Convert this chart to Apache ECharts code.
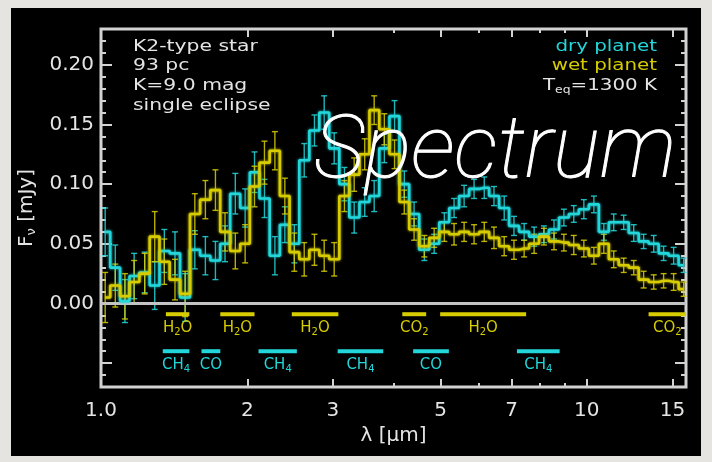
<!DOCTYPE html>
<html><head><meta charset="utf-8">
<script src="https://cdn.jsdelivr.net/npm/echarts@6/dist/echarts.min.js"></script>
<style>html,body{margin:0;padding:0;background:#e6e4e0;}#c{width:712px;height:462px;}</style>
</head><body><div id="c"></div>
<script>
// ---- data (wavelength in micron, flux in mJy) ----
const wavelength = [1.02,1.07,1.12,1.17,1.23,1.29,1.35,1.42,1.49,1.56,
  1.64,1.72,1.80,1.89,1.98,2.07,2.17,2.28,2.39,2.50,
  2.62,2.75,2.88,3.02,3.17,3.32,3.49,3.65,3.83,4.02,
  4.21,4.41,4.63,4.85,5.09,5.33,5.59,5.86,6.15,6.44,
  6.76,7.08,7.43,7.79,8.16,8.56,8.97,9.40,9.86,10.34,
  10.84,11.36,11.91,12.49,13.09,13.73,14.39,15.09,15.82];
const dryFlux = [0.060,0.030,0.002,0.023,0.026,0.015,0.044,0.042,0.005,0.045,
  0.040,0.036,0.050,0.092,0.080,0.110,0.088,0.040,0.066,0.050,
  0.120,0.145,0.160,0.130,0.100,0.072,0.085,0.090,0.130,0.157,
  0.100,0.075,0.045,0.050,0.068,0.080,0.090,0.096,0.097,0.090,
  0.080,0.065,0.060,0.056,0.058,0.062,0.072,0.075,0.079,0.083,
  0.060,0.068,0.068,0.059,0.052,0.050,0.042,0.040,0.032];
const dryErr = [0.020,0.019,0.018,0.019,0.017,0.020,0.018,0.018,0.020,0.016,
  0.016,0.016,0.015,0.017,0.016,0.017,0.016,0.016,0.015,0.016,
  0.014,0.013,0.014,0.013,0.014,0.013,0.012,0.013,0.012,0.013,
  0.011,0.010,0.009,0.008,0.008,0.008,0.009,0.008,0.009,0.008,
  0.010,0.008,0.007,0.008,0.007,0.008,0.007,0.007,0.008,0.007,
  0.007,0.007,0.006,0.007,0.006,0.007,0.006,0.007,0.006];
const wetFlux = [0.005,0.015,0.006,0.018,0.025,0.056,0.035,0.020,0.008,0.075,
  0.087,0.095,0.060,0.044,0.050,0.098,0.118,0.128,0.090,0.043,
  0.037,0.045,0.040,0.037,0.090,0.108,0.125,0.162,0.146,0.125,
  0.085,0.062,0.048,0.055,0.060,0.058,0.060,0.058,0.060,0.055,
  0.048,0.045,0.046,0.050,0.056,0.052,0.051,0.049,0.046,0.040,
  0.050,0.037,0.032,0.030,0.020,0.018,0.019,0.018,0.012];
const wetErr = [0.021,0.018,0.019,0.018,0.017,0.021,0.019,0.017,0.019,0.017,
  0.016,0.017,0.016,0.015,0.016,0.017,0.018,0.016,0.015,0.016,
  0.014,0.013,0.013,0.014,0.013,0.014,0.013,0.012,0.013,0.012,
  0.010,0.009,0.009,0.008,0.008,0.009,0.008,0.008,0.008,0.009,
  0.008,0.008,0.007,0.008,0.007,0.007,0.007,0.008,0.007,0.007,
  0.008,0.007,0.006,0.006,0.007,0.006,0.006,0.007,0.006];

// molecular band markers
const wetBandStart = [1.36, 1.76, 2.47, 4.17, 4.99, 13.4];
const wetBandEnd   = [1.52, 2.07, 3.08, 4.67, 7.50, 16.0];
const wetBandName  = ['H2O','H2O','H2O','CO2','H2O','CO2'];
const dryBandStart = [1.34, 1.61, 2.11, 3.07, 4.39, 7.18];
const dryBandEnd   = [1.52, 1.76, 2.53, 3.81, 5.20, 8.79];
const dryBandName  = ['CH4','CO','CH4','CH4','CO','CH4'];
const wetBandLevel = -0.009;
const dryBandLevel = -0.040;

// axis ticks
const xMin = 1.0, xMax = 16.0;
const xMajorTicks = [1, 2, 3, 5, 7, 10, 15];
const xMinorTicks = [4, 6, 8, 9];
const yMin = -0.07, yMax = 0.23;
const yLabelTicks = [0, 0.05, 0.10, 0.15, 0.20];
const yMajorTicks = [-0.05, 0, 0.05, 0.10, 0.15, 0.20];
const yMinorTicks = [-0.06,-0.04,-0.03,-0.02,-0.01,0.01,0.02,0.03,0.04,0.06,0.07,0.08,0.09,
  0.11,0.12,0.13,0.14,0.16,0.17,0.18,0.19,0.21,0.22];

// ---- build ----
const CYAN = '#22d6da', YELLOW = '#d6cc00', FRAME = '#d2d2d2', TXT = '#e4e4e4';
const FONT = 'DejaVu Sans';
const lg = v => Math.log10(v);

function molRich(name) {
  return name.split(/(\d)/).filter(Boolean).map(t => /\d/.test(t) ? '{s|' + t + '}' : '{n|' + t + '}').join('');
}

function errSeries(name, flux, err, color) {
  return {
    type: 'custom', name, xAxisIndex: 0, yAxisIndex: 0, z: 3,
    data: wavelength.map((w, i) => [lg(w), flux[i], err[i]]),
    renderItem: (params, api) => {
      const x = api.value(0), y = api.value(1), e = api.value(2);
      const t = api.coord([x, y + e]), b = api.coord([x, y - e]);
      const st = { stroke: color, lineWidth: 1.4, opacity: 0.85 };
      return { type: 'group', children: [
        { type: 'line', shape: { x1: t[0], y1: t[1], x2: b[0], y2: b[1] }, style: st },
        { type: 'line', shape: { x1: t[0] - 3, y1: t[1], x2: t[0] + 3, y2: t[1] }, style: st },
        { type: 'line', shape: { x1: b[0] - 3, y1: b[1], x2: b[0] + 3, y2: b[1] }, style: st }
      ]};
    }
  };
}

function bandSeries(starts, ends, names, level, color) {
  return {
    type: 'custom', xAxisIndex: 0, yAxisIndex: 0, z: 4, clip: true, silent: true,
    data: starts.map((s, i) => [lg(s), lg(ends[i]), level]),
    renderItem: (params, api) => {
      const a = api.coord([api.value(0), api.value(2)]);
      const b = api.coord([api.value(1), api.value(2)]);
      return { type: 'group', children: [
        { type: 'line', shape: { x1: a[0], y1: a[1], x2: b[0], y2: b[1] }, style: { stroke: color, lineWidth: 4 } },
        { type: 'text', x: (a[0] + b[0]) / 2, y: a[1] + 6, style: {
          text: molRich(names[params.dataIndex]), fill: color, align: 'center', verticalAlign: 'top',
          rich: { n: { fontSize: 15, fontFamily: FONT, fill: color, lineHeight: 16 },
                  s: { fontSize: 10, fontFamily: FONT, fill: color, padding: [9, 0, 0, 0], lineHeight: 16 } }
        }}
      ]};
    }
  };
}

const tickStyle = { color: FRAME, width: 2 };
function xAx(pos, ticks, len, labels) {
  return {
    type: 'value', position: pos, min: lg(xMin), max: lg(xMax),
    splitLine: { show: false }, axisLine: { show: false, onZero: false },
    axisTick: { show: true, inside: true, length: len, lineStyle: tickStyle, customValues: ticks.map(lg) },
    axisLabel: labels ? { show: true, customValues: xMajorTicks.map(lg), margin: 14, color: TXT, fontFamily: FONT, fontSize: 20,
      formatter: v => { const n = Math.round(Math.pow(10, v)); return n === 1 ? '1.0' : String(n); } } : { show: false }
  };
}
function yAx(pos, ticks, len, labels) {
  return {
    type: 'value', position: pos, min: yMin, max: yMax,
    splitLine: { show: false }, axisLine: { show: false, onZero: false },
    axisTick: { show: true, inside: true, length: len, lineStyle: tickStyle, customValues: ticks },
    axisLabel: labels ? { show: true, customValues: yLabelTicks, margin: 7, color: TXT, fontFamily: FONT, fontSize: 20,
      formatter: v => v.toFixed(2) } : { show: false }
  };
}

const xAxes = [xAx('bottom', xMajorTicks, 8, true), xAx('bottom', xMinorTicks, 4, false),
               xAx('top', xMajorTicks, 8, false), xAx('top', xMinorTicks, 4, false)];
xAxes[0].name = 'λ [μm]';
xAxes[0].nameLocation = 'middle';
xAxes[0].nameGap = 36;
xAxes[0].nameTextStyle = { color: TXT, fontFamily: FONT, fontSize: 20 };

const yAxes = [yAx('left', yMajorTicks, 11, true), yAx('left', yMinorTicks, 5, false),
               yAx('right', yMajorTicks, 11, false), yAx('right', yMinorTicks, 5, false)];
yAxes[0].name = '{n|F}{s|ν}{n| [mJy]}';
yAxes[0].nameLocation = 'middle';
yAxes[0].nameRotate = 90;
yAxes[0].nameGap = 61;
yAxes[0].nameTextStyle = { color: TXT, fontFamily: FONT, fontSize: 20,
  rich: { n: { color: TXT, fontFamily: FONT, fontSize: 20 }, s: { color: TXT, fontFamily: FONT, fontSize: 13, padding: [10, 0, 0, 0] } } };

function stepLine(name, flux, color) {
  return {
    type: 'line', name, step: 'middle', showSymbol: false, symbol: 'none', z: 5,
    data: wavelength.map((w, i) => [lg(w), flux[i]]),
    lineStyle: { color, width: 2.6, shadowColor: color, shadowBlur: 3 },
    itemStyle: { color }
  };
}

const leftText = ['K2-type star', '93 pc', 'K=9.0 mag', 'single eclipse'];
const leftTextY = [47, 66, 86, 106];

const graphics = [
  { type: 'rect', z: -100, shape: { x: 11, y: 8, width: 690, height: 448 }, style: { fill: '#000' } }
];
leftText.forEach((t, i) => graphics.push({ type: 'text', z: 100, x: 133, y: leftTextY[i], scaleX: 1.27,
  style: { text: t, fill: TXT, font: '16px "DejaVu Sans"', align: 'left', verticalAlign: 'middle' } }));
graphics.push({ type: 'text', z: 100, x: 657, y: 47, scaleX: 1.24,
  style: { text: 'dry planet', fill: CYAN, font: '16px "DejaVu Sans"', align: 'right', verticalAlign: 'middle' } });
graphics.push({ type: 'text', z: 100, x: 657, y: 66, scaleX: 1.24,
  style: { text: 'wet planet', fill: YELLOW, font: '16px "DejaVu Sans"', align: 'right', verticalAlign: 'middle' } });
graphics.push({ type: 'text', z: 100, x: 657, y: 86, scaleX: 1.24,
  style: { text: '{n|T}{s|eq}{n|=1300 K}', fill: TXT, align: 'right', verticalAlign: 'middle',
    rich: { n: { fontSize: 16, fontFamily: FONT, fill: TXT, lineHeight: 18 }, s: { fontSize: 10, fontFamily: FONT, fill: TXT, padding: [9, 0, 0, 0], lineHeight: 18 } } } });
graphics.push({ type: 'text', z: 200, x: 314, y: 155,
  style: { text: 'Spectrum', fill: '#ffffff', stroke: '#ffffff', lineWidth: 1, fontFamily: 'Roboto', fontStyle: 'italic', fontWeight: 100, fontSize: 88, align: 'left', verticalAlign: 'middle' } });

const chart = echarts.init(document.getElementById('c'), null, { renderer: 'canvas' });
chart.setOption({
  animation: false,
  backgroundColor: '#e6e4e0',
  grid: { left: 101, right: 26, top: 29, bottom: 75, show: true, borderColor: FRAME, borderWidth: 3,
          backgroundColor: 'transparent', containLabel: false, outerBoundsMode: 'none' },
  xAxis: xAxes,
  yAxis: yAxes,
  graphic: { elements: graphics },
  series: [
    errSeries('dry err', dryFlux, dryErr, CYAN),
    stepLine('dry planet', dryFlux, CYAN),
    errSeries('wet err', wetFlux, wetErr, YELLOW),
    Object.assign(stepLine('wet planet', wetFlux, YELLOW), {
      markLine: { silent: true, symbol: ['none', 'none'], label: { show: false },
        lineStyle: { color: '#c4c4c4', width: 3, type: 'solid' }, data: [{ yAxis: 0 }] } }),
    bandSeries(wetBandStart, wetBandEnd, wetBandName, wetBandLevel, YELLOW),
    bandSeries(dryBandStart, dryBandEnd, dryBandName, dryBandLevel, CYAN)
  ]
});
</script></body></html>
